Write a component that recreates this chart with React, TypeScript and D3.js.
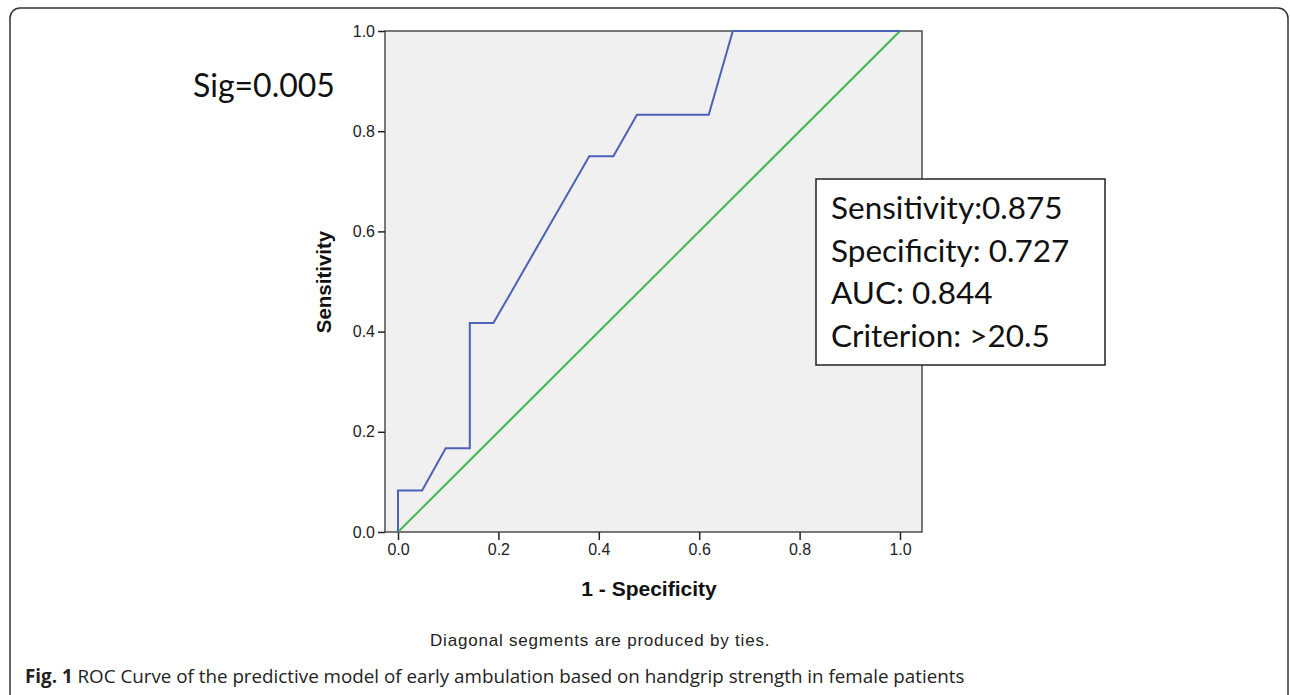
import React, { useRef, useEffect } from 'react';
import * as d3 from 'd3';

// ROC curve points (1 - specificity, sensitivity)
const fpr = [0, 0, 0.048, 0.095, 0.143, 0.143, 0.19, 0.381, 0.429, 0.476, 0.619, 0.667, 1];
const tpr = [0, 0.083, 0.083, 0.167, 0.167, 0.417, 0.417, 0.75, 0.75, 0.833, 0.833, 1, 1];
const refLine = [0, 1];
const tickValues = [0, 0.2, 0.4, 0.6, 0.8, 1.0];
const statLines = ['Sensitivity:0.875', 'Specificity: 0.727', 'AUC: 0.844', 'Criterion: >20.5'];

const App = () => {
  const svgRef = useRef<SVGSVGElement>(null);

  useEffect(() => {
    document.body.style.margin = '0';
    document.body.style.overflow = 'hidden';

    const svg = d3.select(svgRef.current);
    svg.selectAll('*').remove();

    const x = d3.scaleLinear().domain([0, 1]).range([398, 900]);
    const y = d3.scaleLinear().domain([0, 1]).range([532, 31]);

    // figure frame
    svg.append('rect')
      .attr('x', 10).attr('y', 8)
      .attr('width', 1278).attr('height', 720)
      .attr('rx', 10)
      .attr('fill', '#fff')
      .attr('stroke', '#333')
      .attr('stroke-width', 1.5);

    // plot area
    svg.append('rect')
      .attr('x', 385).attr('y', 31)
      .attr('width', 537).attr('height', 501)
      .attr('fill', '#f0f0f0')
      .attr('stroke', '#333')
      .attr('stroke-width', 1.3);

    const yAxis = svg.append('g')
      .attr('transform', 'translate(385,0)')
      .call(d3.axisLeft(y).tickValues(tickValues).tickFormat(d3.format('.1f')).tickSize(7).tickSizeOuter(0).tickPadding(3));
    const xAxis = svg.append('g')
      .attr('transform', 'translate(0,532)')
      .call(d3.axisBottom(x).tickValues(tickValues).tickFormat(d3.format('.1f')).tickSize(8).tickSizeOuter(0).tickPadding(4));

    [yAxis, xAxis].forEach(g => {
      g.select('.domain').remove();
      g.selectAll('line').attr('stroke', '#222').attr('stroke-width', 1.5);
      g.selectAll('text')
        .attr('fill', '#222')
        .style('font-family', '"Liberation Sans", Arial, sans-serif')
        .style('font-size', '16px');
    });

    const pts = fpr.map((f, i) => [f, tpr[i]] as [number, number]);
    const line = d3.line<[number, number]>().x(d => x(d[0])).y(d => y(d[1]));

    svg.append('path')
      .datum(refLine.map(v => [v, v] as [number, number]))
      .attr('d', line)
      .attr('fill', 'none')
      .attr('stroke', '#3fba4f')
      .attr('stroke-width', 2);

    svg.append('path')
      .datum(pts)
      .attr('d', line)
      .attr('fill', 'none')
      .attr('stroke', '#4a62b8')
      .attr('stroke-width', 2);

    // axis titles
    svg.append('text')
      .attr('transform', 'translate(331,282) rotate(-90)')
      .attr('text-anchor', 'middle')
      .style('font-family', '"Liberation Sans", Arial, sans-serif')
      .style('font-size', '20.5px')
      .style('font-weight', 'bold')
      .attr('fill', '#111')
      .text('Sensitivity');

    svg.append('text')
      .attr('x', 649).attr('y', 596)
      .attr('text-anchor', 'middle')
      .style('font-family', '"Liberation Sans", Arial, sans-serif')
      .style('font-size', '21px')
      .style('font-weight', 'bold')
      .attr('fill', '#111')
      .text('1 - Specificity');

    svg.append('text')
      .attr('x', 430).attr('y', 646)
      .style('font-family', '"Liberation Sans", Arial, sans-serif')
      .style('font-size', '17px')
      .style('letter-spacing', '0.8px')
      .attr('fill', '#222')
      .text('Diagonal segments are produced by ties.');

    svg.append('text')
      .attr('x', 193).attr('y', 97)
      .style('font-family', 'Lato, "Open Sans", sans-serif')
      .style('font-size', '32px')
      .attr('fill', '#111')
      .text('Sig=0.005');

    // stats box
    svg.append('rect')
      .attr('x', 816).attr('y', 179)
      .attr('width', 289).attr('height', 186)
      .attr('fill', '#fff')
      .attr('stroke', '#222')
      .attr('stroke-width', 1.5);

    svg.append('g').selectAll('text')
      .data(statLines)
      .enter().append('text')
      .attr('x', 831)
      .attr('y', (d, i) => 219 + i * 42.5)
      .style('font-family', 'Lato, "Open Sans", sans-serif')
      .style('font-size', '31.5px')
      .attr('fill', '#111')
      .text(d => d);

    // caption
    const cap = svg.append('text')
      .attr('x', 25).attr('y', 683)
      .style('font-family', '"Open Sans", sans-serif')
      .style('font-size', '18.8px')
      .attr('fill', '#222');
    cap.append('tspan').style('font-weight', 'bold').text('Fig. 1');
    cap.append('tspan').text(' ROC Curve of the predictive model of early ambulation based on handgrip strength in female patients');
  }, []);

  return <svg ref={svgRef} width={1290} height={695} style={{ display: 'block' }} />;
};

export default App;
